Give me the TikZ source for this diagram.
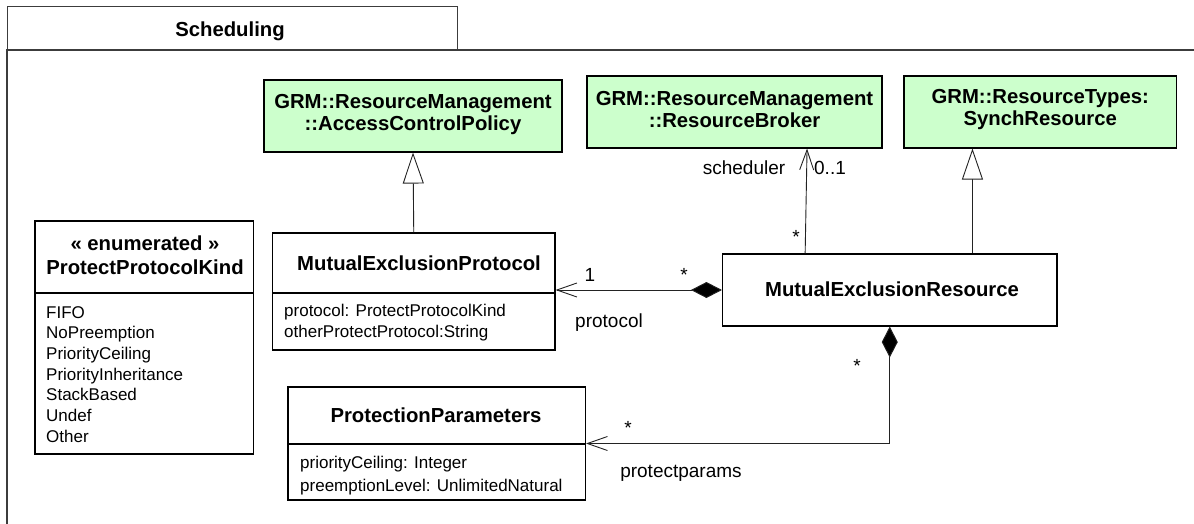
\documentclass[tikz,border=0pt]{standalone}
\usepackage{fontspec}
\setmainfont{Liberation Sans}
\usetikzlibrary{arrows.meta,calc}
\definecolor{grmgreen}{RGB}{204,255,204}
\definecolor{framegray}{RGB}{60,60,60}
\definecolor{linegray}{RGB}{35,35,35}
\begin{document}
\begin{tikzpicture}[x=1pt,y=-1pt,
  cls/.style={draw=black, line width=1.1pt, fill=white, inner sep=0pt},
  grm/.style={cls, fill=grmgreen},
  ttl/.style={font=\fontsize{20.3}{22}\selectfont\bfseries, align=center, inner sep=0pt},
  itm/.style={font=\fontsize{17}{20.7}\selectfont, inner sep=0pt},
  lbl/.style={font=\fontsize{19}{22}\selectfont, inner sep=0pt},
  conn/.style={draw=linegray, line width=0.9pt},
  gen/.style={conn, -{Triangle[open, length=31pt, width=21pt, fill=white]}},
  nav/.style={conn, -{Straight Barb[length=20pt, width=14pt]}},
  comp/.style={conn, {Diamond[length=31pt, width=16pt, fill=black]}-{Straight Barb[length=20pt, width=14pt]}}
]
\useasboundingbox (0,0) rectangle (1194,524);
\clip (0,0) rectangle (1194,524);
\fill[white] (0,0) rectangle (1194,524);

% frame
\draw[framegray, line width=1.4pt] (7,540) -- (7,50) -- (1210,50);
\node[draw=framegray, line width=1.4pt, minimum width=449.6pt, minimum height=44pt, anchor=north west, inner sep=0pt] (tab) at (7,6) {};
\node[ttl] (tabtext) at (230,31) {Scheduling};

% green boxes
\node[grm, minimum width=298pt, minimum height=72pt] (acp) at (413,116) {};
\node[ttl] (acpt) at (413,115) {GRM::ResourceManagement\\::AccessControlPolicy};
\node[grm, minimum width=295pt, minimum height=72pt] (rb) at (734.5,112) {};
\node[ttl] (rbt) at (734.5,110) {GRM::ResourceManagement\\::ResourceBroker};
\node[grm, minimum width=272.5pt, minimum height=72pt] (sr) at (1040.25,112) {};
\node[ttl] (srt) at (1040.25,110) {GRM::ResourceTypes:\\SynchResource};

% enumeration
\node[cls, minimum width=218.7pt, minimum height=233pt] (enum) at (144.35,337.5) {};
\draw[black, line width=1.1pt] (enum.west |- 0,293) -- (enum.east |- 0,293);
\node[ttl, font=\fontsize{20.3}{24}\selectfont\bfseries] (enumt) at (145,255) {« enumerated »\\ProtectProtocolKind};
\foreach \t [count=\i from 0] in {FIFO,NoPreemption,PriorityCeiling,PriorityInheritance,StackBased,Undef,Other}
  \node[itm, anchor=base west] (e\i) at (46,{318+20.7*\i}) {\t};

% MutualExclusionProtocol
\node[cls, minimum width=282.5pt, minimum height=117pt] (mep) at (413.75,291.5) {};
\draw[black, line width=1.1pt] (mep.west |- 0,293) -- (mep.east |- 0,293);
\node[ttl] (mept) at (419,263) {MutualExclusionProtocol};
\node[itm, anchor=west] (mepa1) at (284,312) {protocol: ProtectProtocolKind};
\node[itm, anchor=west] (mepa2) at (284,333) {otherProtectProtocol:String};

% MutualExclusionResource
\node[cls, minimum width=334.5pt, minimum height=72pt] (mer) at (889.75,290) {};
\node[ttl] (mert) at (892,289) {MutualExclusionResource};

% ProtectionParameters
\node[cls, minimum width=297.5pt, minimum height=113pt] (pp) at (436.75,443.5) {};
\draw[black, line width=1.1pt] (pp.west |- 0,444) -- (pp.east |- 0,444);
\node[ttl] (ppt) at (436,415) {ProtectionParameters};
\node[itm, anchor=west] (ppa1) at (300,464) {priorityCeiling: Integer};
\node[itm, anchor=west] (ppa2) at (300,487) {preemptionLevel: UnlimitedNatural};

% connectors
\draw[gen] (mep.north) -- (acp.south);
\path (mer.north west) ++(250.5,0) coordinate (srfoot);
\draw[gen] (srfoot) -- (srfoot |- sr.south);
\path (mer.north west) ++(83.2,0) coordinate (rbfoot);
\path (rb.south west) ++(220.6,0) coordinate (rbhead);
\draw[nav] (rbfoot) -- (rbhead);
\draw[comp] (mer.west) -- (mer.west -| mep.east);
\draw[comp] (mer.south) |- (pp.east);

% labels
\node[lbl] (lsched) at (744,168) {scheduler};
\node[lbl] (lzo) at (830,168) {0..1};
\node[lbl] (lstar1) at (796,237) {*};
\node[lbl] (lone) at (590,275) {1};
\node[lbl] (lstar2) at (684,275) {*};
\node[lbl] (lprot) at (609,323) {protocol};
\node[lbl] (lstar3) at (857,366) {*};
\node[lbl] (lstar4) at (628,428) {*};
\node[lbl] (lpp) at (681,473) {protectparams};
\end{tikzpicture}
\end{document}
